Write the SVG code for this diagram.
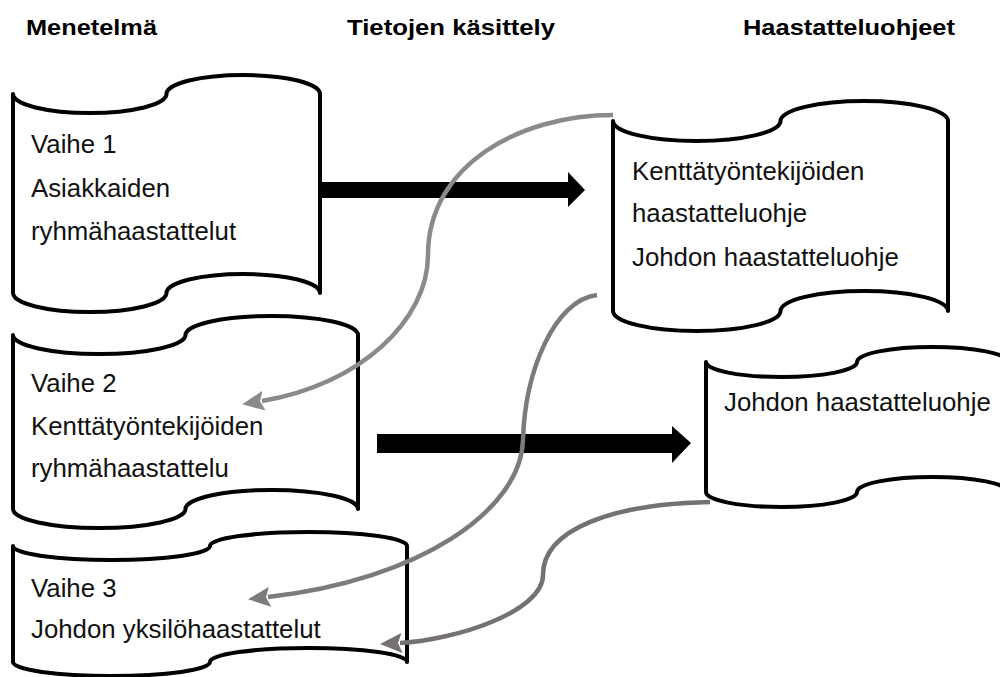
<svg xmlns="http://www.w3.org/2000/svg" width="1000" height="677" viewBox="0 0 1000 677">
<style>
.tape{fill:#fff;stroke:#000;stroke-width:4;stroke-linejoin:round}
.t{font-family:"Liberation Sans",Arial,sans-serif;font-size:25.8px;fill:#111}
.h{font-family:"Liberation Sans",Arial,sans-serif;font-size:22px;font-weight:bold;fill:#000}
.fat{fill:#000}
.g{fill:none;stroke-width:4.5}
</style>
<defs>
<marker id="ahA" markerUnits="userSpaceOnUse" markerWidth="22" markerHeight="20" viewBox="0 0 22 20" refX="2" refY="10" orient="auto"><path d="M0,0 L22,10 L0,20 L4,10 Z" fill="#8a8a8a"/></marker>
<marker id="ahB" markerUnits="userSpaceOnUse" markerWidth="22" markerHeight="20" viewBox="0 0 22 20" refX="2" refY="10" orient="auto"><path d="M0,0 L22,10 L0,20 L4,10 Z" fill="#7c7a7a"/></marker>
<marker id="ahC" markerUnits="userSpaceOnUse" markerWidth="22" markerHeight="20" viewBox="0 0 22 20" refX="2" refY="10" orient="auto"><path d="M0,0 L22,10 L0,20 L4,10 Z" fill="#767171"/></marker>
</defs>
<rect width="1000" height="677" fill="#fff"/>
<g id="titles">
<text class="h" x="26" y="35" textLength="131" lengthAdjust="spacingAndGlyphs">Menetelmä</text>
<text class="h" x="347" y="35" textLength="208" lengthAdjust="spacingAndGlyphs">Tietojen käsittely</text>
<text class="h" x="743" y="35" textLength="212" lengthAdjust="spacingAndGlyphs">Haastatteluohjeet</text>
</g>
<g id="vaihe1">
<path class="tape" d="M13,94 A76.75,19 0 0 0 166.5,94 A76.75,19 0 0 1 320,94 L320,293 A76.75,19 0 0 0 166.5,293 A76.75,19 0 0 1 13,293 Z"/>
<text class="t" x="31" y="153">Vaihe 1</text>
<text class="t" x="31" y="197">Asiakkaiden</text>
<text class="t" x="31" y="240">ryhmähaastattelut</text>
</g>
<g id="vaihe2">
<path class="tape" d="M13,335 A86.25,19 0 0 0 185.5,335 A86.25,19 0 0 1 358,335 L358,509 A86.25,19 0 0 0 185.5,509 A86.25,19 0 0 1 13,509 Z"/>
<text class="t" x="31" y="392">Vaihe 2</text>
<text class="t" x="31" y="435">Kenttätyöntekijöiden</text>
<text class="t" x="31" y="477">ryhmähaastattelu</text>
</g>
<g id="vaihe3">
<path class="tape" d="M13,546 A98.5,14 0 0 0 210,546 A98.5,14 0 0 1 407,546 L407,662 A98.5,14 0 0 0 210,662 A98.5,14 0 0 1 13,662 Z"/>
<text class="t" x="31" y="597">Vaihe 3</text>
<text class="t" x="31" y="638">Johdon yksilöhaastattelut</text>
</g>
<g id="ohje1">
<path class="tape" d="M613,121 A83.75,20 0 0 0 780.5,121 A83.75,20 0 0 1 948,121 L948,311 A83.75,20 0 0 0 780.5,311 A83.75,20 0 0 1 613,311 Z"/>
<text class="t" x="632" y="180">Kenttätyöntekijöiden</text>
<text class="t" x="632" y="222">haastatteluohje</text>
<text class="t" x="632" y="266">Johdon haastatteluohje</text>
</g>
<g id="ohje2">
<path class="tape" d="M706,362 A75.5,15 0 0 0 857,362 A75.5,15 0 0 1 1008,362 L1008,492 A75.5,15 0 0 0 857,492 A75.5,15 0 0 1 706,492 Z"/>
<text class="t" x="724" y="411">Johdon haastatteluohje</text>
</g>
<g id="connectors">
<polygon class="fat" points="321,182 568,182 568,172 585,190 568,207 568,198 321,198"/>
<polygon class="fat" points="377,434 672,434 672,426 691,443 672,463 672,453 377,453"/>
<path class="g" stroke="#8a8a8a" marker-end="url(#ahA)" d="M613,115 C520,115 428,165 428,255 C428,320 360,385 262,401"/>
<path class="g" stroke="#7c7a7a" marker-end="url(#ahB)" d="M597,295 C555,300 525,370 523,440 C521,510 420,580 268,597"/>
<path class="g" stroke="#767171" marker-end="url(#ahC)" d="M710,502 C610,504 543,530 543,575 C543,612 455,640 400,643"/>
</g>
</svg>
